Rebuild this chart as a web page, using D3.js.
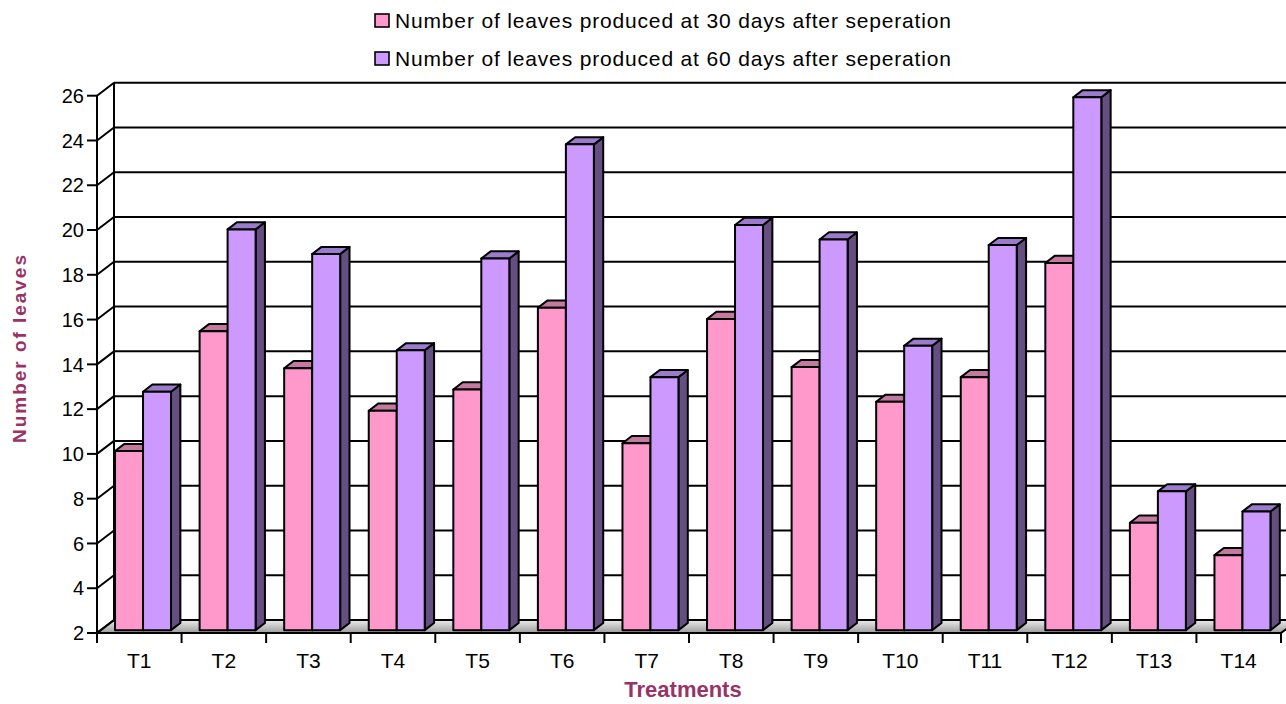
<!DOCTYPE html>
<html>
<head>
<meta charset="utf-8">
<script src="https://cdn.jsdelivr.net/npm/d3@7"></script>
<style>
  html, body { margin: 0; padding: 0; background: #fff; }
  svg { display: block; font-family: "Liberation Sans", Arial, Helvetica, sans-serif; }
</style>
</head>
<body>
<svg id="chart" width="1286" height="704"></svg>
<script>
// Treatments and leaf counts
const categories = ["T1","T2","T3","T4","T5","T6","T7","T8","T9","T10","T11","T12","T13","T14"];
const seriesNames = [
  "Number of leaves produced at 30 days after seperation",
  "Number of leaves produced at 60 days after seperation"
];
const leaves30 = [10.0, 15.35, 13.7, 11.8, 12.75, 16.4, 10.35, 15.9, 13.75, 12.2, 13.3, 18.4, 6.8, 5.35];
const leaves60 = [12.65, 19.9, 18.8, 14.5, 18.6, 23.7, 13.3, 20.1, 19.45, 14.7, 19.2, 25.8, 8.2, 7.3];
const yTicks = [2, 4, 6, 8, 10, 12, 14, 16, 18, 20, 22, 24, 26];

const series = [
  { name: seriesNames[0], values: leaves30, front: "#FF99CC", top: "#C47AA0", side: "#8E4F6E" },
  { name: seriesNames[1], values: leaves60, front: "#CC99FF", top: "#9B7BCB", side: "#654E80" }
];

const svg = d3.select("#chart");

// Front plane of the 3-D plot and the depth vector toward the back wall
const X0 = 97, X1 = 1281;
const depth = { dx: 17, dy: -13 };
const barFront = 0.22, barBack = 0.77; // bar depth as a fraction of full depth

const y = d3.scaleLinear().domain([2, 26]).range([633, 95.7]);
const x = d3.scaleBand().domain(categories).range([X0, X1])
  .paddingInner(0.338).paddingOuter(0.169);
const xs = d3.scaleBand().domain([0, 1]).range([0, x.bandwidth()]).padding(0);
const xCat = d3.scaleBand().domain(categories).range([X0, X1]).padding(0);

const grid = svg.append("g");
const yTop = y(26), yBot = y(2);

// Floor
const defs = svg.append("defs");
const fg = defs.append("linearGradient").attr("id", "floorGrad")
  .attr("x1", 0).attr("y1", 0).attr("x2", 0).attr("y2", 1);
fg.append("stop").attr("offset", "0%").attr("stop-color", "#ececec");
fg.append("stop").attr("offset", "100%").attr("stop-color", "#9c9c9c");

grid.append("polygon")
  .attr("points", [
    [X0, yBot], [X1, yBot], [X1 + depth.dx, yBot + depth.dy], [X0 + depth.dx, yBot + depth.dy]
  ].map(p => p.join(",")).join(" "))
  .attr("fill", "url(#floorGrad)")
  .attr("stroke", "#000").attr("stroke-width", 2);

// Back-wall gridlines and side-wall diagonals
yTicks.forEach(t => {
  const yy = y(t);
  if (t > 2) {
    grid.append("line")
      .attr("x1", X0 + depth.dx).attr("x2", 1290)
      .attr("y1", yy + depth.dy).attr("y2", yy + depth.dy)
      .attr("stroke", "#000").attr("stroke-width", 2);
  }
  grid.append("line")
    .attr("x1", X0).attr("y1", yy)
    .attr("x2", X0 + depth.dx).attr("y2", yy + depth.dy)
    .attr("stroke", "#000").attr("stroke-width", 2);
});
// back wall left edge
grid.append("line")
  .attr("x1", X0 + depth.dx).attr("x2", X0 + depth.dx)
  .attr("y1", yTop + depth.dy).attr("y2", yBot + depth.dy)
  .attr("stroke", "#000").attr("stroke-width", 2);

// Bars
const fx = depth.dx * barFront, fy = depth.dy * barFront;
const bx = depth.dx * barBack, by = depth.dy * barBack;
const bw = xs.bandwidth();
const bars = svg.append("g").attr("stroke", "#000").attr("stroke-width", 2).attr("stroke-linejoin", "round");
const pts = arr => arr.map(p => p.join(",")).join(" ");

categories.forEach((c, i) => {
  series.forEach((s, k) => {
    const left = x(c) + xs(k);
    const right = left + bw;
    const top = y(s.values[i]);
    const bottom = y(2);
    const g = bars.append("g");
    // side face
    g.append("polygon").attr("fill", s.side).attr("points", pts([
      [right + fx, top + fy], [right + bx, top + by], [right + bx, bottom + by], [right + fx, bottom + fy]
    ]));
    // top face
    g.append("polygon").attr("fill", s.top).attr("points", pts([
      [left + fx, top + fy], [right + fx, top + fy], [right + bx, top + by], [left + bx, top + by]
    ]));
    // front face
    g.append("rect").attr("fill", s.front)
      .attr("x", left + fx).attr("y", top + fy)
      .attr("width", bw).attr("height", bottom - top);
  });
});

// Y axis
const yAxis = svg.append("g");
yAxis.append("line").attr("x1", X0).attr("x2", X0).attr("y1", yTop).attr("y2", yBot)
  .attr("stroke", "#000").attr("stroke-width", 2);
yTicks.forEach(t => {
  yAxis.append("line").attr("x1", X0 - 10).attr("x2", X0).attr("y1", y(t)).attr("y2", y(t))
    .attr("stroke", "#000").attr("stroke-width", 2);
  yAxis.append("text").attr("x", X0 - 13).attr("y", y(t)).attr("dy", "0.36em")
    .attr("text-anchor", "end").attr("font-size", 20).attr("fill", "#000").text(t);
});

// X axis
const xAxis = svg.append("g");
xAxis.append("line").attr("x1", X0).attr("x2", X1).attr("y1", yBot).attr("y2", yBot)
  .attr("stroke", "#000").attr("stroke-width", 2);
const edges = categories.map(c => xCat(c)).concat([X1]);
edges.forEach(e => {
  xAxis.append("line").attr("x1", e).attr("x2", e).attr("y1", yBot).attr("y2", yBot + 10)
    .attr("stroke", "#000").attr("stroke-width", 2);
});
categories.forEach(c => {
  xAxis.append("text").attr("x", xCat(c) + xCat.bandwidth() / 2).attr("y", 668)
    .attr("text-anchor", "middle").attr("font-size", 21).attr("fill", "#000").text(c);
});

// Axis titles
svg.append("text").attr("x", 683).attr("y", 697).attr("text-anchor", "middle")
  .attr("font-size", 22).attr("font-weight", "bold").attr("fill", "#993366").text("Treatments");
svg.append("text").attr("transform", "translate(26,349) rotate(-90)")
  .attr("text-anchor", "middle").attr("font-size", 19).attr("font-weight", "bold")
  .attr("fill", "#993366").attr("textLength", 188).attr("lengthAdjust", "spacing")
  .text("Number of leaves");

// Legend
const legend = svg.append("g");
series.forEach((s, k) => {
  const ly = 14 + k * 38;
  legend.append("rect").attr("x", 375).attr("y", ly).attr("width", 14).attr("height", 13)
    .attr("fill", s.front).attr("stroke", "#000").attr("stroke-width", 1.6);
  legend.append("text").attr("x", 395).attr("y", ly + 14)
    .attr("font-size", 21).attr("fill", "#000")
    .attr("textLength", 556).attr("lengthAdjust", "spacing")
    .text(s.name);
});
</script>
</body>
</html>
